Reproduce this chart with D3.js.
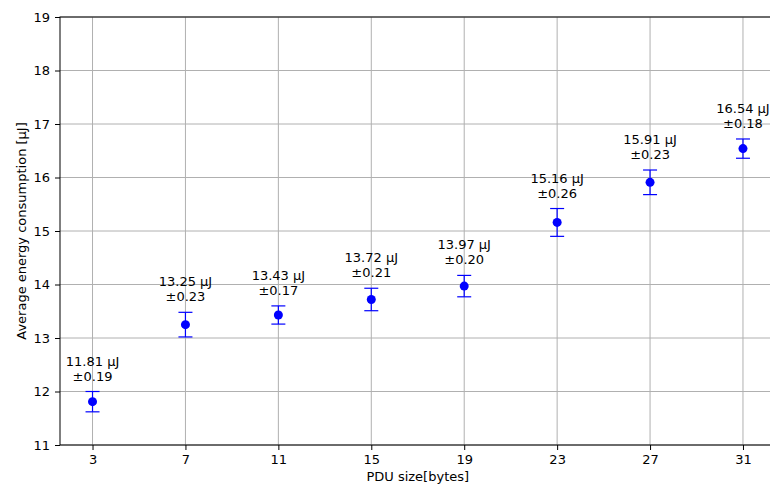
<!DOCTYPE html>
<html><head><meta charset="utf-8">
<script src="https://cdn.jsdelivr.net/npm/d3@7"></script>
<style>body{margin:0;background:#fff}svg{display:block;font-family:"DejaVu Sans",sans-serif}</style>
</head><body><div id="c"></div>
<script>
const pduSizes = [3, 7, 11, 15, 19, 23, 27, 31];
const meanEnergy = [11.81, 13.25, 13.43, 13.72, 13.97, 15.16, 15.91, 16.54];
const errEnergy = [0.19, 0.23, 0.17, 0.21, 0.20, 0.26, 0.23, 0.18];
const yTicks = [11, 12, 13, 14, 15, 16, 17, 18, 19];
const xLabel = "PDU size[bytes]";
const yLabel = "Average energy consumption [μJ]";

const W = 770, H = 486;
const L = 60, R = 775.5, T = 17, B = 445;
const svg = d3.select("#c").append("svg").attr("width", W).attr("height", H);
const x = d3.scaleLinear().domain([1.6, 32.4]).range([L, R]);
const y = d3.scaleLinear().domain([11, 19]).range([B, T]);

// grid
const g = svg.append("g");
g.selectAll("line.vx").data(pduSizes).enter().append("line")
  .attr("x1", d => x(d)).attr("x2", d => x(d)).attr("y1", T).attr("y2", B)
  .attr("stroke", "#b0b0b0").attr("stroke-width", 1);
g.selectAll("line.hy").data(yTicks).enter().append("line")
  .attr("x1", L).attr("x2", R).attr("y1", d => y(d)).attr("y2", d => y(d))
  .attr("stroke", "#b0b0b0").attr("stroke-width", 1);

// axes
const xAxis = svg.append("g").attr("transform", `translate(0,${B})`)
  .call(d3.axisBottom(x).tickValues(pduSizes).tickSize(5).tickPadding(5).tickFormat(d3.format("d")));
const yAxis = svg.append("g").attr("transform", `translate(${L},0)`)
  .call(d3.axisLeft(y).tickValues(yTicks).tickSize(5).tickPadding(5).tickFormat(d3.format("d")));
[xAxis, yAxis].forEach(a => {
  a.select(".domain").remove();
  a.selectAll("text").attr("font-size", 13).attr("fill", "#000").attr("font-family", "DejaVu Sans");
  a.selectAll("line").attr("stroke", "#000").attr("stroke-width", 1);
});
// spines
svg.append("rect").attr("x", L).attr("y", T).attr("width", R - L).attr("height", B - T)
  .attr("fill", "none").attr("stroke", "#000").attr("stroke-width", 1);

// error bars
const pts = pduSizes.map((s, i) => ({s, m: meanEnergy[i], e: errEnergy[i]}));
const eb = svg.append("g").attr("stroke", "#0000ff").attr("stroke-width", 1.2);
pts.forEach(p => {
  eb.append("line").attr("x1", x(p.s)).attr("x2", x(p.s)).attr("y1", y(p.m - p.e)).attr("y2", y(p.m + p.e));
  eb.append("line").attr("x1", x(p.s) - 7).attr("x2", x(p.s) + 7).attr("y1", y(p.m - p.e)).attr("y2", y(p.m - p.e));
  eb.append("line").attr("x1", x(p.s) - 7).attr("x2", x(p.s) + 7).attr("y1", y(p.m + p.e)).attr("y2", y(p.m + p.e));
});
svg.append("g").selectAll("circle").data(pts).enter().append("circle")
  .attr("cx", d => x(d.s)).attr("cy", d => y(d.m)).attr("r", 4.5).attr("fill", "#0000ff");

// labels
const lab = svg.append("g").attr("font-size", 13).attr("text-anchor", "middle").attr("fill", "#000");
pts.forEach(p => {
  const t = y(p.m + p.e);
  lab.append("text").attr("x", x(p.s)).attr("y", t - 26).text(d3.format(".2f")(p.m) + " μJ");
  lab.append("text").attr("x", x(p.s)).attr("y", t - 11).text("±" + d3.format(".2f")(p.e));
});

svg.append("text").attr("x", (L + R) / 2).attr("y", 481).attr("text-anchor", "middle")
  .attr("font-size", 13).text(xLabel);
svg.append("text").attr("transform", `translate(26,${(T + B) / 2}) rotate(-90)`)
  .attr("text-anchor", "middle").attr("font-size", 13).text(yLabel);
</script></body></html>
